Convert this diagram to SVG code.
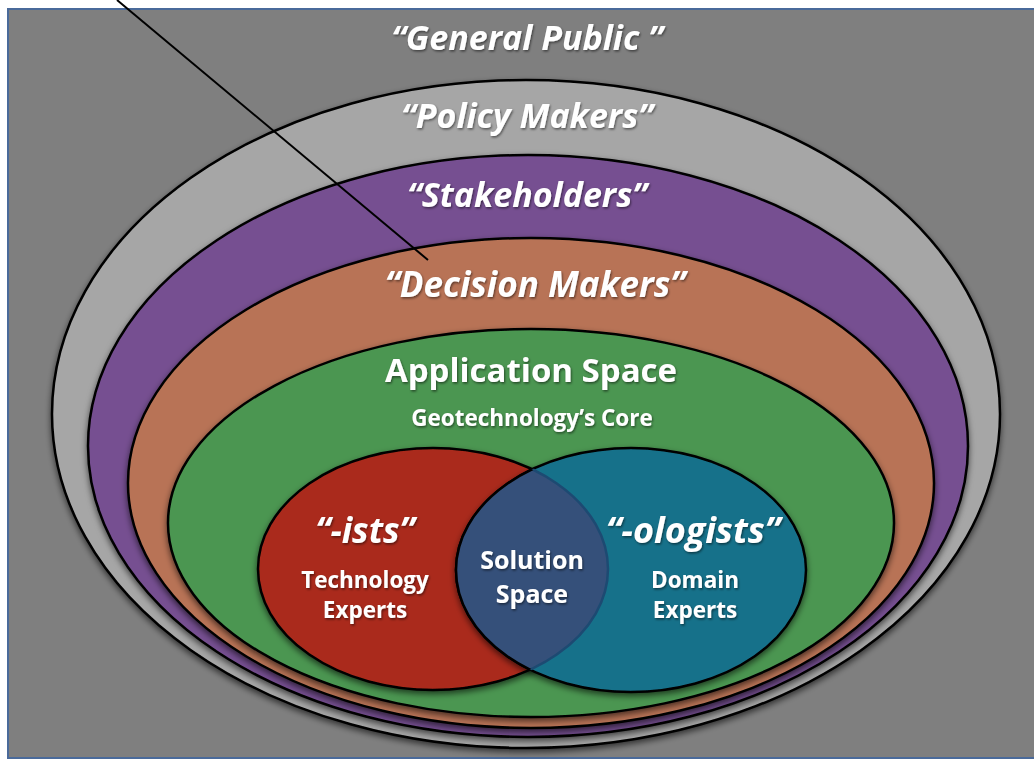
<svg xmlns="http://www.w3.org/2000/svg" width="1034" height="761" viewBox="0 0 1034 761">
<defs>
<style>
.ring{stroke:#000;stroke-width:2.5}
.lbl{font-family:"Open Sans","Liberation Sans",sans-serif;font-weight:bold;fill:#fff;text-anchor:middle}
.it{font-style:italic}
</style>
<filter id="sh" x="-10%" y="-10%" width="120%" height="125%">
<feDropShadow dx="0" dy="3" stdDeviation="3" flood-color="#000" flood-opacity="0.6"/>
</filter>
<filter id="ts" x="-10%" y="-20%" width="120%" height="140%">
<feDropShadow dx="1" dy="1.5" stdDeviation="1" flood-color="#000" flood-opacity="0.5"/>
</filter>
<clipPath id="redclip"><ellipse cx="433" cy="569" rx="175" ry="121"/></clipPath>
<clipPath id="blueclip"><ellipse cx="631" cy="570" rx="175" ry="122"/></clipPath>
</defs>
<rect x="0" y="0" width="1034" height="761" fill="#fff"/>
<rect x="8" y="9" width="1040" height="749" fill="#7f7f7f" stroke="#4a6a9a" stroke-width="2"/>
<g id="policy-makers"><ellipse class="ring" cx="526" cy="414" rx="474" ry="334" fill="#a6a6a6" filter="url(#sh)"/></g>
<g id="stakeholders"><ellipse class="ring" cx="528" cy="446" rx="440" ry="291" fill="#764f91" filter="url(#sh)"/></g>
<g id="decision-makers"><ellipse class="ring" cx="531" cy="483" rx="403" ry="245" fill="#b87356" filter="url(#sh)"/></g>
<g id="application-space"><ellipse class="ring" cx="531" cy="523" rx="363" ry="194" fill="#4b9651" filter="url(#sh)"/></g>
<g id="ists"><ellipse class="ring" cx="433" cy="569" rx="175" ry="121" fill="#aa2b1b" filter="url(#sh)"/></g>
<g id="ologists"><ellipse class="ring" cx="631" cy="570" rx="175" ry="122" fill="#18718a" filter="url(#sh)"/></g>
<g id="solution-space">
<ellipse cx="631" cy="570" rx="175" ry="122" fill="#35507a" clip-path="url(#redclip)"/>
<ellipse cx="433" cy="569" rx="175" ry="121" fill="none" stroke="#1d4a72" stroke-width="2.5" clip-path="url(#blueclip)"/>
<ellipse cx="631" cy="570" rx="175" ry="122" fill="none" stroke="#000" stroke-width="2.5" clip-path="url(#redclip)"/>
</g>
<g id="connectors">
<line x1="117" y1="0" x2="428" y2="260" stroke="#000" stroke-width="2"/>
</g>
<g filter="url(#ts)">
<text class="lbl it" x="527" y="50" font-size="34">“General Public ”</text>
<text class="lbl it" x="527" y="128" font-size="34">“Policy Makers”</text>
<text class="lbl it" x="527" y="207" font-size="34">“Stakeholders”</text>
<text class="lbl it" x="535" y="297" font-size="35">“Decision Makers”</text>
<text class="lbl" x="531" y="382" font-size="33">Application Space</text>
<text class="lbl" x="532" y="426" font-size="22.5">Geotechnology’s Core</text>
<text class="lbl it" x="365" y="543" font-size="35">“-ists”</text>
<text class="lbl" x="365" y="588" font-size="22.5">Technology</text>
<text class="lbl" x="365" y="618" font-size="22.5">Experts</text>
<text class="lbl" x="532" y="569" font-size="25">Solution</text>
<text class="lbl" x="532" y="603" font-size="25">Space</text>
<text class="lbl it" x="693" y="543" font-size="36">“-ologists”</text>
<text class="lbl" x="695" y="588" font-size="22.5">Domain</text>
<text class="lbl" x="695" y="618" font-size="22.5">Experts</text>
</g>
</svg>
